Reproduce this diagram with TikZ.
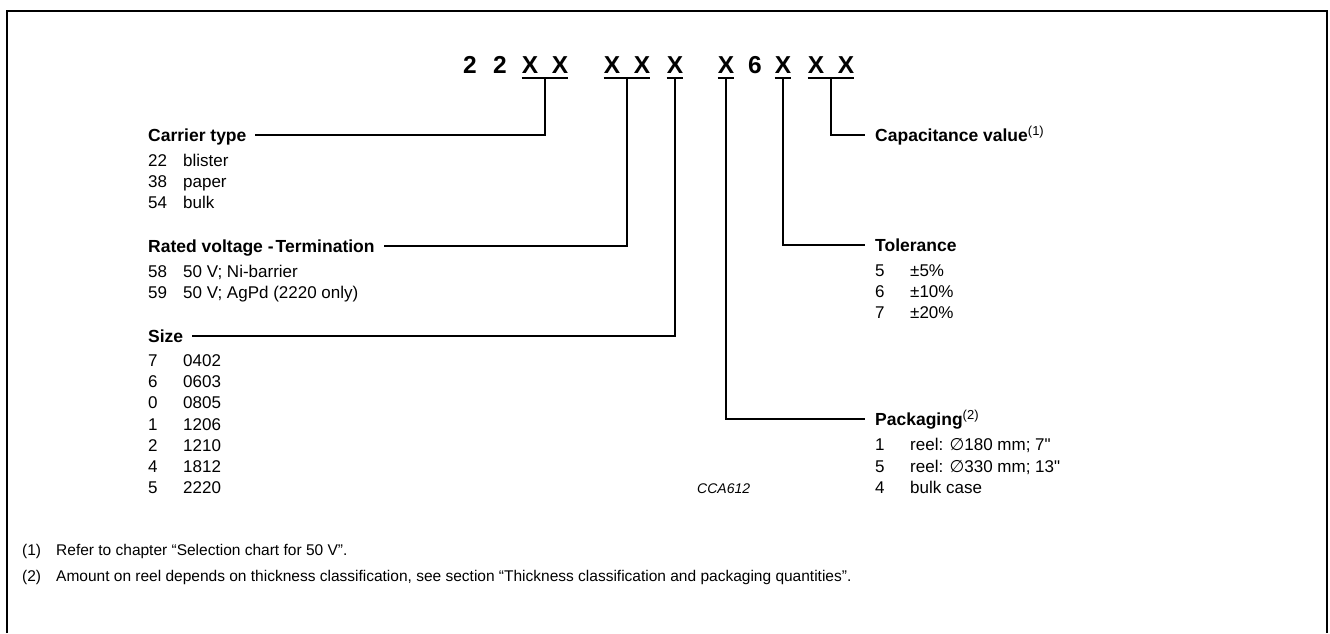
\documentclass[tikz,border=0pt]{standalone}
\usepackage{fontspec}
\setmainfont{Liberation Sans}
\newfontfamily\plainsans{Liberation Sans}
\newfontfamily\dejavu{DejaVu Sans}
\usetikzlibrary{calc}
\newcommand{\dia}{{\dejavu\char"2205}}
\newcommand{\inch}{{\plainsans"}}
\newcommand{\fnote}[1]{\raisebox{6pt}{\fontsize{13}{13}\selectfont\mdseries(#1)}}
\newcommand{\itm}[2]{\makebox[35pt][l]{#1}#2}
\begin{document}
\begin{tikzpicture}[x=1pt,y=-1pt,
  frame/.style={line width=2pt},
  codech/.style={anchor=base, inner sep=0pt, font=\bfseries\fontsize{24.5}{24}\selectfont},
  uline/.style={line width=1.6pt},
  conn/.style={line width=1.2pt},
  lbl/.style={anchor=base west, inner sep=0pt, font=\bfseries\fontsize{17.5}{21}\selectfont},
  itemtext/.style={anchor=base west, inner sep=0pt, font=\fontsize{17}{21}\selectfont},
  fn/.style={anchor=base west, inner sep=0pt, font=\fontsize{15.5}{20}\selectfont},
  figid/.style={anchor=base west, inner sep=0pt, font=\itshape\fontsize{14}{16}\selectfont}]
\useasboundingbox (0,0) rectangle (1330,633);
% frame
\draw[frame] (7,633) -- (7,11) -- (1327,11) -- (1327,633);
% code characters
\node[codech] (c1) at (470,73) {2};
\node[codech] (c2) at (500,73) {2};
\node[codech] (c3) at (530,73) {X};
\node[codech] (c4) at (560,73) {X};
\node[codech] (c5) at (612,73) {X};
\node[codech] (c6) at (642,73) {X};
\node[codech] (c7) at (675,73) {X};
\node[codech] (c8) at (726,73) {X};
\node[codech] (c9) at (755,73) {6};
\node[codech] (c10) at (783,73) {X};
\node[codech] (c11) at (816,73) {X};
\node[codech] (c12) at (846,73) {X};
% underlines
\draw[uline] ([yshift=-5pt]c3.base west) -- ([yshift=-5pt]c4.base east);
\draw[uline] ([yshift=-5pt]c5.base west) -- ([yshift=-5pt]c6.base east);
\draw[uline] ([yshift=-5pt]c7.base west) -- ([yshift=-5pt]c7.base east);
\draw[uline] ([yshift=-5pt]c8.base west) -- ([yshift=-5pt]c8.base east);
\draw[uline] ([yshift=-5pt]c10.base west) -- ([yshift=-5pt]c10.base east);
\draw[uline] ([yshift=-5pt]c11.base west) -- ([yshift=-5pt]c12.base east);
\coordinate (u1) at ($(c3.base)!0.5!(c4.base)+(0,5)$);
\coordinate (u2) at ($(c5.base)!0.5!(c6.base)+(0,5)$);
\coordinate (u3) at ($(c7.base)+(0,5)$);
\coordinate (u4) at ($(c8.base)+(0,5)$);
\coordinate (u5) at ($(c10.base)+(0,5)$);
\coordinate (u6) at ($(c11.base)!0.5!(c12.base)+(0,5)$);
% left labels
\node[lbl] (carrier) at (148,141) {Carrier type};
\node[itemtext] (ca1) at (148,166) {\itm{22}{blister}};
\node[itemtext] (ca2) at (148,187) {\itm{38}{paper}};
\node[itemtext] (ca3) at (148,208) {\itm{54}{bulk}};
\node[lbl] (rated) at (148,252) {Rated voltage -\hspace{0.12em}Termination};
\node[itemtext] (ra1) at (148,277) {\itm{58}{50 V; Ni-barrier}};
\node[itemtext] (ra2) at (148,298) {\itm{59}{50 V; AgPd (2220 only)}};
\node[lbl] (size) at (148,342) {Size};
\node[itemtext] (s1) at (148,366) {\itm{7}{0402}};
\node[itemtext] (s2) at (148,387) {\itm{6}{0603}};
\node[itemtext] (s3) at (148,408) {\itm{0}{0805}};
\node[itemtext] (s4) at (148,430) {\itm{1}{1206}};
\node[itemtext] (s5) at (148,451) {\itm{2}{1210}};
\node[itemtext] (s6) at (148,472) {\itm{4}{1812}};
\node[itemtext] (s7) at (148,493) {\itm{5}{2220}};
% right labels
\node[lbl] (cap) at (875,141) {Capacitance value\fnote{1}};
\node[lbl] (tol) at (875,251) {Tolerance};
\node[itemtext] (t1) at (875,276) {\itm{5}{±5\%}};
\node[itemtext] (t2) at (875,297) {\itm{6}{±10\%}};
\node[itemtext] (t3) at (875,318) {\itm{7}{±20\%}};
\node[lbl] (pack) at (875,425) {Packaging\fnote{2}};
\node[itemtext] (p1) at (875,450) {\itm{1}{reel: \dia180 mm; 7\inch}};
\node[itemtext] (p2) at (875,472) {\itm{5}{reel: \dia330 mm; 13\inch}};
\node[itemtext] (p3) at (875,493) {\itm{4}{bulk case}};
\node[figid] (id) at (697,493) {CCA612};
% connectors
\draw[conn] (u1) |- ([shift={(8pt,6pt)}]carrier.base east);
\draw[conn] (u2) |- ([shift={(9pt,6pt)}]rated.base east);
\draw[conn] (u3) |- ([shift={(9pt,6pt)}]size.base east);
\draw[conn] (u4) |- ([shift={(-10pt,6pt)}]pack.base west);
\draw[conn] (u5) |- ([shift={(-10pt,6pt)}]tol.base west);
\draw[conn] (u6) |- ([shift={(-10pt,6pt)}]cap.base west);
% footnotes
\node[fn] (f1) at (22,555) {\makebox[34pt][l]{(1)}Refer to chapter “Selection chart for 50 V”.};
\node[fn] (f2) at (22,581) {\makebox[34pt][l]{(2)}Amount on reel depends on thickness classification, see section “Thickness classification and packaging quantities”.};
\end{tikzpicture}
\end{document}
